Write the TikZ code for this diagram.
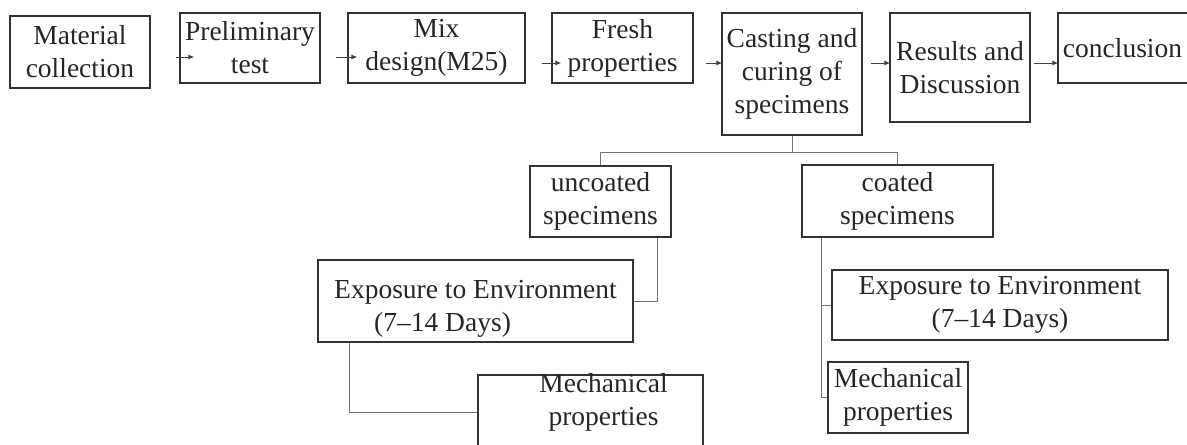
\documentclass[tikz,border=0pt]{standalone}
\usepackage{fontspec}
\setmainfont{Liberation Serif}
\usetikzlibrary{arrows.meta}

\tikzset{
  stage/.style={draw=black!80, line width=1.4bp, inner sep=2bp, align=center,
    minimum width=140bp, minimum height=70bp},
  link/.style={draw=black!55, line width=0.8bp},
  feed/.style={draw=black!75, line width=0.9bp, -{Latex[length=6bp,width=5bp]}},
}

\begin{document}
\begin{tikzpicture}[x=1bp, y=-1bp, font=\fontsize{27.5bp}{33bp}\selectfont, text=black!85]
			\useasboundingbox (0,0) rectangle (1187,445);
			\clip (0,0) rectangle (1187,445);
			% main line
			\node[stage, minimum height=72bp] (material) at (80,52) {Material\\collection};
			\node[stage] (prelim) at (250,48) {Preliminary\\test};
			\node[stage, minimum width=177bp] (mixdesign) at (436.5,48) {Mix\\design(M25)};
			\node[stage, minimum width=141bp] (fresh) at (622.5,48) {Fresh\\properties};
			\node[stage, minimum height=122bp] (casting) at (792,74) {Casting and\\curing of\\specimens};
			\node[stage, minimum height=109bp] (results) at (960,67.5) {Results and\\Discussion};
			\node[stage, minimum width=145bp] (concl) at (1130.5,48) {conclusion\hspace*{16bp}};
			\draw[feed] ([shift={(-3,9)}]prelim.west) -- +(18,0);
			\draw[feed] ([shift={(-11,9)}]mixdesign.west) -- +(21,0);
			\draw[feed] ([shift={(-9,15)}]fresh.west) -- +(19,0);
			\draw[feed] ([shift={(-15,-11)}]casting.west) -- +(16,0);
			\draw[feed] ([shift={(-18,-4.5)}]results.west) -- +(19,0);
			\draw[feed] ([shift={(-23,15)}]concl.west) -- +(24,0);
			% branches
			\node[stage, minimum width=141bp, minimum height=71bp] (uncoated) at (600.5,201.5) {uncoated\\specimens};
			\node[stage, minimum width=191bp, minimum height=72bp] (coated) at (897.5,201) {coated\\specimens};
			\node[stage, minimum width=315bp, minimum height=82bp, align=left] (exposeU) at (475.5,301)
			{\rule{0pt}{33bp}Exposure to Environment\\\hspace*{40bp}(7--14 Days)};
			\node[stage, minimum width=336bp] (exposeC) at (1000,305) {Exposure to Environment\\(7--14 Days)};
			\node[stage, minimum width=225bp, minimum height=74bp,
			label={[anchor=north, align=center, inner sep=0pt, xshift=13bp, yshift=1.5bp]north:Mechanical\\properties}]
			(mechU) at (590.5,412) {};
			\node[stage, minimum width=140bp, minimum height=71bp] (mechC) at (898,397.5) {Mechanical\\properties};
			\draw[link] (casting.south) -- +(0,17) coordinate (split);
			\draw[link] (uncoated.north) |- (split) -| (coated.north);
			\draw[link] ([xshift=-14bp]uncoated.south east) |- (exposeU.east);
			\draw[link] ([xshift=32bp]exposeU.south west) |- (mechU.west);
			\draw[link] ([xshift=20bp]coated.south west) |- (exposeC.west);
			\draw[link] ([xshift=20bp]coated.south west) |- (mechC.west);
\end{tikzpicture}
\end{document}
